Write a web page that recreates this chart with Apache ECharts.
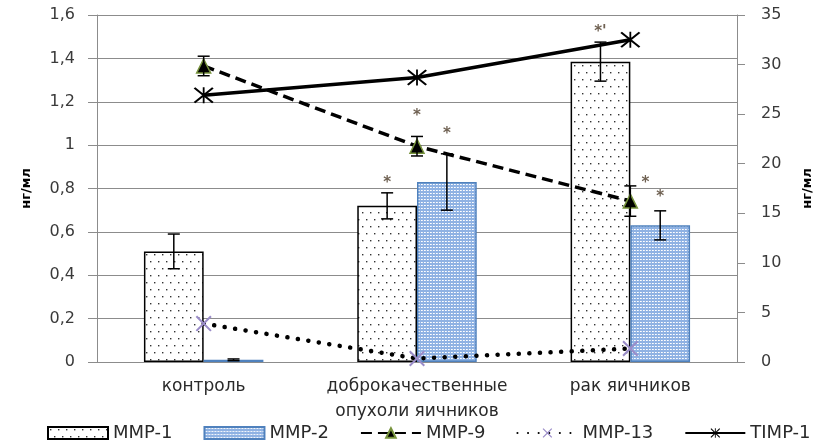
<!DOCTYPE html>
<html>
<head>
<meta charset="utf-8">
<script src="https://cdn.jsdelivr.net/npm/echarts@6/dist/echarts.min.js"></script>
<style>
  html, body { margin: 0; padding: 0; background: #fff; }
  #chart { width: 816px; height: 444px; }
</style>
</head>
<body>
<div id="chart"></div>
<script>
// Groups along the x axis
const categories = ['контроль', 'доброкачественные\nопухоли яичников', 'рак яичников'];

// Bars (left axis, нг/мл) with their error half-widths
const mmp1 = [0.51, 0.72, 1.385];
const mmp1Err = [0.08, 0.06, 0.09];
const mmp2 = [0.01, 0.83, 0.63];
const mmp2Err = [0.004, 0.13, 0.067];

// Lines
const mmp9 = [1.365, 0.995, 0.742];     // left axis
const mmp9Err = [0.045, 0.045, 0.07];
const mmp13 = [0.177, 0.016, 0.062];    // left axis
const timp1 = [26.9, 28.7, 32.5];       // right axis

// Significance marks over the error bars
const mmp1Marks = ['', '*', '*\''];
const mmp2Marks = ['', '*', '*'];
const mmp9Marks = ['', '*', '*'];

// Legend entries
const seriesNames = ['MMP-1', 'MMP-2', 'MMP-9', 'MMP-13', 'TIMP-1'];

// Axis ranges
const leftAxis = { min: 0, max: 1.6, interval: 0.2 };
const rightAxis = { min: 0, max: 35, interval: 5 };

const FONT = '"DejaVu Sans", Verdana, sans-serif';
const GRID_COLOR = '#8c8c8c';
const TEXT_COLOR = '#2a2a2a';
const BAR_FRAC = 0.28;

function dotTile() {
  const c = document.createElement('canvas');
  c.width = 8; c.height = 14;
  const g = c.getContext('2d');
  g.fillStyle = '#ffffff'; g.fillRect(0, 0, 8, 14);
  g.fillStyle = '#333333';
  g.fillRect(2, 2, 1.4, 1.4);
  g.fillRect(6, 9, 1.4, 1.4);
  return c;
}
function blueTile() {
  const c = document.createElement('canvas');
  c.width = 3; c.height = 3;
  const g = c.getContext('2d');
  g.fillStyle = '#8fb2e3'; g.fillRect(0, 0, 3, 3);
  g.fillStyle = '#ffffff'; g.fillRect(1, 1, 1, 1);
  g.fillStyle = '#e4ecf8'; g.fillRect(2, 1, 1, 1);
  return c;
}

const X_PATH = 'path://M0,0.9L0.9,0L10,9.1L9.1,10ZM9.1,0L10,0.9L0.9,10L0,9.1Z';
const STAR_PATH = 'path://M0,0.8L0.8,0L10,9.2L9.2,10ZM9.2,0L10,0.8L0.8,10L0,9.2ZM4.55,0L5.45,0L5.45,10L4.55,10Z';

function commaNum(v) {
  return String(Math.round(v * 10) / 10).replace('.', ',');
}

// Error bars with caps; side = -1 / +1 shifts onto the left/right bar of a group, 0 = on the point
function errorSeries(values, errs, marks, side, markDx, markDy) {
  return {
    type: 'custom',
    yAxisIndex: 0,
    z: 6,
    silent: true,
    data: values.map((v, i) => [i, v, errs[i]]),
    renderItem(params, api) {
      const i = api.value(0), v = api.value(1), e = api.value(2);
      const band = api.size([1, 0])[0];
      const dx = side * band * BAR_FRAC / 2;
      const hi = api.coord([i, v + e]);
      const lo = api.coord([i, v - e]);
      const x = hi[0] + dx;
      const cap = 6;
      const style = { stroke: '#000', lineWidth: 1.5, fill: null };
      const children = [
        { type: 'line', shape: { x1: x, y1: hi[1], x2: x, y2: lo[1] }, style },
        { type: 'line', shape: { x1: x - cap, y1: hi[1], x2: x + cap, y2: hi[1] }, style },
        { type: 'line', shape: { x1: x - cap, y1: lo[1], x2: x + cap, y2: lo[1] }, style }
      ];
      const m = marks[i];
      if (m) {
        children.push({
          type: 'text',
          style: {
            text: m, x: x + markDx[i], y: hi[1] - markDy[i],
            fill: '#6f6152', font: 'bold 15px ' + FONT,
            align: 'center', verticalAlign: 'middle'
          }
        });
      }
      return { type: 'group', children };
    }
  };
}

const chart = echarts.init(document.getElementById('chart'), null, { renderer: 'canvas' });

chart.setOption({
  animation: false,
  backgroundColor: '#ffffff',
  grid: { left: 97, right: 79, top: 15, bottom: 82, containLabel: false, outerBoundsMode: 'none' },
  legend: {
    data: seriesNames.map((n, i) => (i < 2 ? { name: n, icon: 'rect' } : { name: n })),
    left: 42, bottom: -3,
    itemWidth: 60, itemHeight: 12, itemGap: 31,
    textStyle: { fontFamily: FONT, fontSize: 18, color: TEXT_COLOR }
  },
  xAxis: {
    type: 'category',
    data: categories,
    axisLine: { show: true, lineStyle: { color: GRID_COLOR, width: 1 } },
    axisTick: { show: false },
    axisLabel: {
      interval: 0, hideOverlap: false,
      fontFamily: FONT, fontSize: 17, color: TEXT_COLOR, margin: 12, lineHeight: 25
    }
  },
  yAxis: [
    {
      type: 'value', ...leftAxis,
      name: 'нг/мл', nameLocation: 'middle', nameGap: 64, nameRotate: 90,
      nameTextStyle: { fontFamily: FONT, fontSize: 13, fontWeight: 'bold', color: '#000' },
      axisLine: { show: true, lineStyle: { color: GRID_COLOR } },
      axisTick: { show: true, length: 9, lineStyle: { color: GRID_COLOR } },
      splitLine: { show: true, lineStyle: { color: GRID_COLOR, width: 1 } },
      axisLabel: { fontFamily: FONT, fontSize: 16, color: '#3a3a3a', margin: 22, formatter: commaNum }
    },
    {
      type: 'value', ...rightAxis,
      name: 'нг/мл', nameLocation: 'middle', nameGap: 64, nameRotate: 90,
      nameTextStyle: { fontFamily: FONT, fontSize: 13, fontWeight: 'bold', color: '#000' },
      axisLine: { show: true, lineStyle: { color: GRID_COLOR } },
      axisTick: { show: true, length: 8, lineStyle: { color: GRID_COLOR } },
      splitLine: { show: false },
      axisLabel: { fontFamily: FONT, fontSize: 16, color: '#3a3a3a', margin: 24 }
    }
  ],
  series: [
    {
      name: 'MMP-1', type: 'bar', yAxisIndex: 0, data: mmp1,
      barWidth: (BAR_FRAC * 100) + '%', barGap: '0%',
      itemStyle: { color: { image: dotTile(), repeat: 'repeat' }, borderColor: '#000', borderWidth: 1.5 },
      z: 2
    },
    {
      name: 'MMP-2', type: 'bar', yAxisIndex: 0, data: mmp2,
      barWidth: (BAR_FRAC * 100) + '%', barGap: '0%',
      itemStyle: { color: { image: blueTile(), repeat: 'repeat' }, borderColor: '#4f81bd', borderWidth: 1.5 },
      z: 2
    },
    {
      name: 'MMP-9', type: 'line', yAxisIndex: 0, data: mmp9,
      symbol: 'triangle', symbolSize: 14,
      itemStyle: { color: '#000', borderColor: '#77933c', borderWidth: 1.5 },
      lineStyle: { color: '#000', width: 3.5, type: [11, 6] },
      z: 4
    },
    {
      name: 'MMP-13', type: 'line', yAxisIndex: 0, data: mmp13,
      symbol: X_PATH, symbolSize: 16,
      itemStyle: { color: '#9a8cc8' },
      lineStyle: { color: '#000', width: 4.5, type: [0.1, 10.5], cap: 'round' },
      z: 4
    },
    {
      name: 'TIMP-1', type: 'line', yAxisIndex: 1, data: timp1,
      symbol: STAR_PATH, symbolSize: [20, 16],
      itemStyle: { color: '#000' },
      lineStyle: { color: '#000', width: 3.5 },
      z: 4
    },
    errorSeries(mmp1, mmp1Err, mmp1Marks, -1, [0, 0, 0], [0, 10, 10]),
    errorSeries(mmp2, mmp2Err, mmp2Marks, 1, [0, 0, 0], [0, 20, 14]),
    errorSeries(mmp9, mmp9Err, mmp9Marks, 0, [0, 0, 15], [0, 20, 3])
  ]
});
</script>
</body>
</html>
